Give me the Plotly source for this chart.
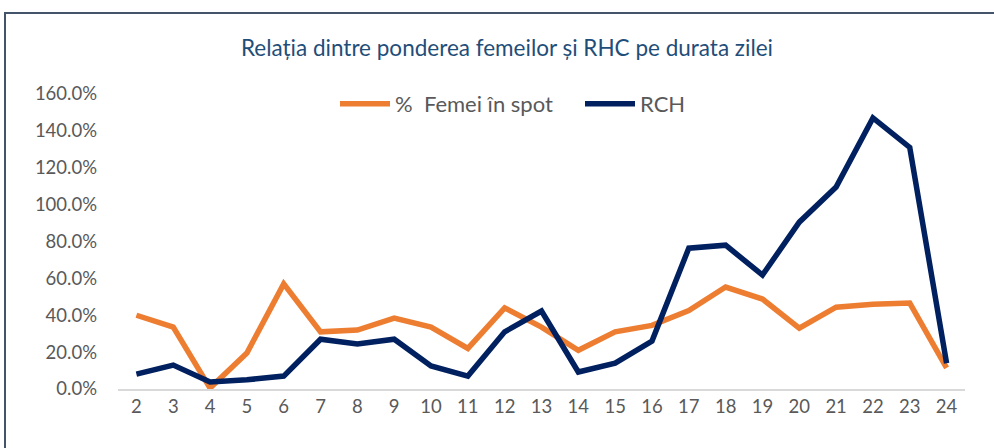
import plotly.graph_objects as go

hours = [str(h) for h in range(2, 25)]
femei = [40, 33.6, 0.5, 19.5, 57, 31, 32, 38.5, 33.6, 22, 44, 33.6, 21, 31, 34.5,
         42.5, 55.3, 48.8, 33, 44.4, 46, 46.6, 11.4]
rch = [8.1, 13, 3.8, 5, 7, 27, 24.4, 27, 12.5, 7, 31, 42.3, 9.2, 14, 26,
       76.4, 78, 61.8, 90.5, 109.5, 147, 131, 14]
y_ticks = [0, 20, 40, 60, 80, 100, 120, 140, 160]
y_ticktext = [f"{v:.1f}%" for v in y_ticks]

fig = go.Figure()
fig.add_trace(go.Scatter(x=hours, y=femei, mode="lines", name="%  Femei în spot",
                         line=dict(color="#ED7D31", width=5.5)))
fig.add_trace(go.Scatter(x=hours, y=rch, mode="lines", name="RCH",
                         line=dict(color="#002060", width=5.5)))

L, R, T, B = 118, 29, 94, 59
W, H = 994, 448
pw, ph = W - L - R, H - T - B

fig.update_layout(
    width=W, height=H,
    margin=dict(l=L, r=R, t=T, b=B, autoexpand=False),
    paper_bgcolor="white", plot_bgcolor="white",
    font=dict(family="Lato, Open Sans, sans-serif", color="#595959", size=18),
    title=dict(text="Relația dintre ponderea femeilor și RHC pe durata zilei",
               xref="container", x=507 / W, xanchor="center", y=1 - 48 / H, yanchor="middle",
               font=dict(size=22.5, color="#1F4E79")),
    legend=dict(orientation="h", x=(335 - L) / pw, xanchor="left", y=1 + (T - 104) / ph,
                yanchor="middle", font=dict(size=22, color="#595959"),
                itemwidth=50, entrywidth=180, entrywidthmode="pixels",
                bgcolor="rgba(0,0,0,0)"),
    showlegend=True,
    xaxis=dict(type="category", showgrid=False, showline=True, linecolor="#D9D9D9",
               linewidth=1.5, ticks="", tickfont=dict(size=18.5, color="#595959"),
               range=[-0.5, len(hours) - 0.5], automargin=False),
    yaxis=dict(range=[0, 160], tickvals=y_ticks, ticktext=y_ticktext, showgrid=False,
               zeroline=False, showline=False, ticks="", automargin=False,
               tickfont=dict(size=18.5, color="#595959"), ticklabelstandoff=20),
    shapes=[dict(type="rect", xref="paper", yref="paper",
                 x0=(5 - L) / pw, x1=(W + 5 - L) / pw,
                 y0=-(B + 5) / ph, y1=1 + (T - 13) / ph,
                 line=dict(color="#44546A", width=2), fillcolor="rgba(0,0,0,0)",
                 layer="below")],
)

fig.write_html("out.html", config={"displayModeBar": False},
               post_script="document.body.style.margin='0';document.body.style.overflow='hidden';")
